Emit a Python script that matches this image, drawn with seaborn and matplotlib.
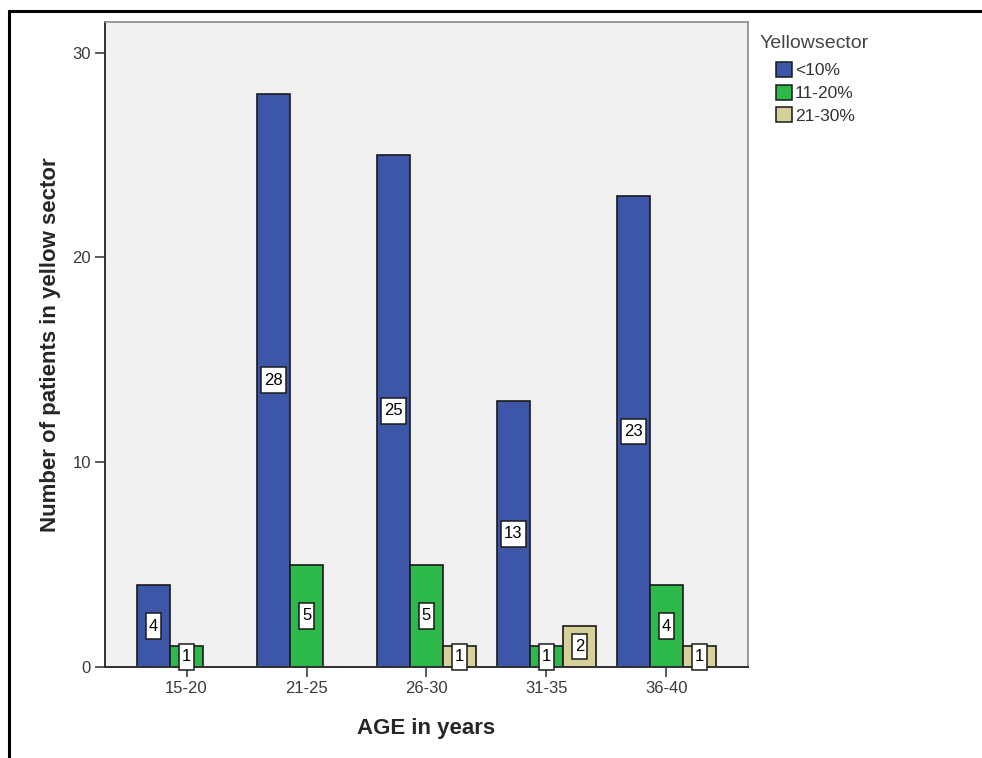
import pandas as pd
import matplotlib.pyplot as plt
import seaborn as sns
from matplotlib.lines import Line2D
from matplotlib.path import Path

# Age groups and counts per yellow sector class
AGES = ['15-20', '21-25', '26-30', '31-35', '36-40']
SECTORS = ['<10%', '11-20%', '21-30%']
LOW = [4, 28, 25, 13, 23]        # <10%
MID = [1, 5, 5, 1, 4]            # 11-20%
HIGH = [None, None, 1, 2, 1]     # 21-30% (no bar for the first two groups)

COLORS = ['#3D56A8', '#2DB84A', '#D6D19B']

rows = []
for sector, vals in zip(SECTORS, [LOW, MID, HIGH]):
    for age, v in zip(AGES, vals):
        if v is not None:
            rows.append({'Age': age, 'Yellowsector': sector, 'Count': v})
df = pd.DataFrame(rows)


def tall_box(x0, y0, width, height, mutation_size):
    # label box: narrow sides, more room above and below the number
    px, py = 0.18 * mutation_size, 0.32 * mutation_size
    x1, y1 = x0 + width + px, y0 + height + py
    x0, y0 = x0 - px, y0 - py
    return Path([(x0, y0), (x1, y0), (x1, y1), (x0, y1), (x0, y0)], closed=True)


sns.set_style('white')
plt.rcParams['font.family'] = ['Liberation Sans', 'DejaVu Sans']

fig = plt.figure(figsize=(9.82, 7.58), dpi=100)
ax = fig.add_axes([0.1069, 0.1201, 0.6548, 0.851])
ax.set_facecolor('#F0F0F0')

sns.barplot(data=df, x='Age', y='Count', hue='Yellowsector', order=AGES,
            hue_order=SECTORS, palette=COLORS, width=0.825, gap=0,
            edgecolor='#1a1a1a', linewidth=1.2, saturation=1, ax=ax)

# White boxed value labels in the middle of each bar
for cont in ax.containers:
    ax.bar_label(cont, label_type='center', fontsize=12, color='black', zorder=5,
                 bbox=dict(boxstyle=tall_box, fc='white', ec='#1a1a1a', lw=1.1))

ax.set_xlim(-0.68, 4.68)
ax.set_ylim(0, 31.5)
ax.set_yticks([0, 10, 20, 30])
ax.tick_params(axis='both', which='major', direction='out', length=7, width=1.2,
               color='#404040', labelsize=12, labelcolor='#3a3a3a', pad=3,
               bottom=True, left=True)

for side in ['left', 'bottom']:
    ax.spines[side].set_color('#303030')
    ax.spines[side].set_linewidth(1.4)
for side in ['top', 'right']:
    ax.spines[side].set_color('#8a8a8a')
    ax.spines[side].set_linewidth(1.2)

ax.set_xlabel('AGE in years', fontsize=16, fontweight='bold', labelpad=16)
ax.set_ylabel('Number of patients in yellow sector', fontsize=16, fontweight='bold', labelpad=8)

# Legend: title on its own, entries indented below it
ax.legend_.remove()
fig.text(760 / 982, 1 - 43 / 758, 'Yellowsector', fontsize=14, color='#444444',
         ha='left', va='center')
handles = [plt.Rectangle((0, 0), 1, 1, fc=c, ec='#1a1a1a', lw=1.1) for c in COLORS]
leg = fig.legend(handles, SECTORS, loc='upper left',
                 bbox_to_anchor=(776 / 982, 1 - 62 / 758), frameon=False, fontsize=12.5,
                 handlelength=0.95, handleheight=0.95, handletextpad=0.15,
                 labelspacing=0.35, borderaxespad=0, borderpad=0)
for t in leg.get_texts():
    t.set_color('#333333')

# Outer frame lines (top and left) of the original picture
fig.add_artist(Line2D([9 / 982, 1], [1 - 11 / 758, 1 - 11 / 758], color='black', lw=2.2))
fig.add_artist(Line2D([9 / 982, 9 / 982], [0, 1 - 11 / 758], color='black', lw=2.2))

plt.savefig('out.png', dpi=100)
